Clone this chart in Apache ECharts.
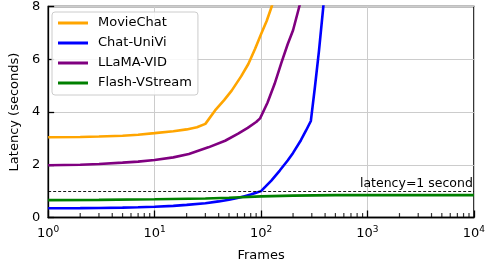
<!DOCTYPE html>
<html><head><meta charset="utf-8">
<script src="https://cdn.jsdelivr.net/npm/echarts@6/dist/echarts.min.js"></script>
<style>html,body{margin:0;padding:0;background:#fff}#c{width:488px;height:272px}</style>
</head><body><div id="c"></div>
<script>
// ---- data ----
const seriesNames = ['MovieChat', 'Chat-UniVi', 'LLaMA-VID', 'Flash-VStream'];
const movieChatFrames = [1, 2, 3, 5, 7, 10, 15, 20, 25, 30, 37, 45, 53, 65, 76, 88, 100, 113, 126, 150];
const movieChatLatency = [3.04, 3.05, 3.07, 3.1, 3.14, 3.2, 3.27, 3.34, 3.42, 3.55, 4.06, 4.45, 4.81, 5.35, 5.82, 6.4, 6.95, 7.45, 8.0, 9.1];
const chatUniViFrames = [1, 2, 3, 5, 7, 10, 15, 20, 30, 40, 50, 60, 70, 80, 90, 100, 110, 125, 150, 178, 200, 237, 265, 294, 320, 350, 385, 420];
const chatUniViLatency = [0.35, 0.355, 0.36, 0.375, 0.39, 0.41, 0.44, 0.48, 0.54, 0.61, 0.67, 0.74, 0.81, 0.87, 0.94, 1.0, 1.17, 1.4, 1.78, 2.16, 2.45, 2.93, 3.3, 3.66, 4.9, 6.3, 8.0, 9.6];
const llamaVidFrames = [1, 2, 3, 5, 7, 10, 15, 21, 32, 46, 61, 75, 90, 98, 115, 134, 155, 178, 200, 229, 260];
const llamaVidLatency = [1.98, 2.0, 2.03, 2.08, 2.12, 2.18, 2.28, 2.41, 2.66, 2.91, 3.18, 3.4, 3.62, 3.76, 4.35, 5.06, 5.85, 6.57, 7.1, 8.0, 8.8];
const flashFrames = [1, 3, 10, 30, 50, 100, 200, 500, 1000, 10000];
const flashLatency = [0.66, 0.67, 0.69, 0.72, 0.75, 0.8, 0.83, 0.85, 0.85, 0.85];
const thresholdValue = 1;
const thresholdLabel = 'latency=1 second';
const xMinorTicks = [2,3,4,5,6,7,8,9,20,30,40,50,60,70,80,90,200,300,400,500,600,700,800,900,2000,3000,4000,5000,6000,7000,8000,9000];
const yTicks = [0, 2, 4, 6, 8];
const xLabelText = 'Frames';
const yLabelText = 'Latency (seconds)';
const colors = ['#FFA500', '#0000FF', '#800080', '#008000'];

const zip = (xs, ys) => xs.map((x, i) => [x, ys[i]]);
const FONT = 'DejaVu Sans';

const chart = echarts.init(document.getElementById('c'), null, {renderer: 'canvas'});
const lineSeries = (name, data, color, extra) => Object.assign({
  name, type: 'line', data, showSymbol: false, symbol: 'none', smooth: false,
  lineStyle: {color, width: 2.6}, itemStyle: {color}, clip: true, animation: false
}, extra || {});

chart.setOption({
  animation: false,
  textStyle: {fontFamily: FONT},
  grid: {left: 47.3, right: 10, top: 4.7, bottom: 54.5, show: true, borderColor: '#000', borderWidth: 1.3},
  legend: {
    data: seriesNames, orient: 'vertical', left: 52, top: 12,
    icon: 'rect', itemWidth: 30, itemHeight: 3, itemGap: 0,
    padding: [1, 6, 2, 6],
    borderColor: '#cccccc', borderWidth: 1, borderRadius: 3, backgroundColor: 'rgba(255,255,255,0.85)',
    textStyle: {fontFamily: FONT, fontSize: 13, color: '#000', lineHeight: 20, padding: [0, 0, 0, 5]}
  },
  xAxis: {
    type: 'log', logBase: 10, min: 1, max: 10000,
    name: xLabelText, nameLocation: 'middle', nameGap: 32,
    nameTextStyle: {fontFamily: FONT, fontSize: 13, color: '#000'},
    axisLine: {show: true, lineStyle: {color: '#000', width: 1.3}},
    axisTick: {show: true, inside: true, length: 7, lineStyle: {color: '#000', width: 1.3}},
    splitLine: {show: true, lineStyle: {color: '#cccccc', width: 1}},
    axisLabel: {
      margin: 8, color: '#000',
      formatter: v => '{b|10}{s|' + Math.round(Math.log10(v)) + '}',
      rich: {b: {fontFamily: FONT, fontSize: 13, color: '#000'}, s: {fontFamily: FONT, fontSize: 9, color: '#000', verticalAlign: 'top', padding: [0, 0, 7, 0]}}
    }
  },
  yAxis: {
    type: 'value', min: 0, max: 8, interval: 2,
    name: yLabelText, nameLocation: 'middle', nameGap: 25,
    nameTextStyle: {fontFamily: FONT, fontSize: 13, color: '#000'},
    axisLine: {show: true, lineStyle: {color: '#000', width: 1.3}},
    axisTick: {show: true, inside: true, length: 6, lineStyle: {color: '#000', width: 1.3}},
    splitLine: {show: true, lineStyle: {color: '#cccccc', width: 1}},
    axisLabel: {margin: 8, color: '#000', fontFamily: FONT, fontSize: 13,
      formatter: v => yTicks.includes(v) ? String(v) : ''}
  },
  series: [
    {
      name: 'minorTicks', type: 'scatter', silent: true, z: 10, clip: false,
      symbol: 'rect', symbolSize: [1.2, 4.5], symbolOffset: [0, -2.2],
      itemStyle: {color: '#000'},
      data: xMinorTicks.map(v => [v, 0])
    },
    lineSeries(seriesNames[0], zip(movieChatFrames, movieChatLatency), colors[0]),
    lineSeries(seriesNames[1], zip(chatUniViFrames, chatUniViLatency), colors[1]),
    lineSeries(seriesNames[2], zip(llamaVidFrames, llamaVidLatency), colors[2]),
    lineSeries(seriesNames[3], zip(flashFrames, flashLatency), colors[3], {
      markLine: {
        silent: true, symbol: ['none', 'none'],
        lineStyle: {color: '#000', width: 0.9, type: [3, 2]},
        label: {show: true, position: 'insideEndTop', formatter: thresholdLabel, color: '#000', fontFamily: FONT, fontSize: 12.5, distance: [1, 1]},
        data: [{yAxis: thresholdValue}]
      }
    })
  ]
});
</script></body></html>
